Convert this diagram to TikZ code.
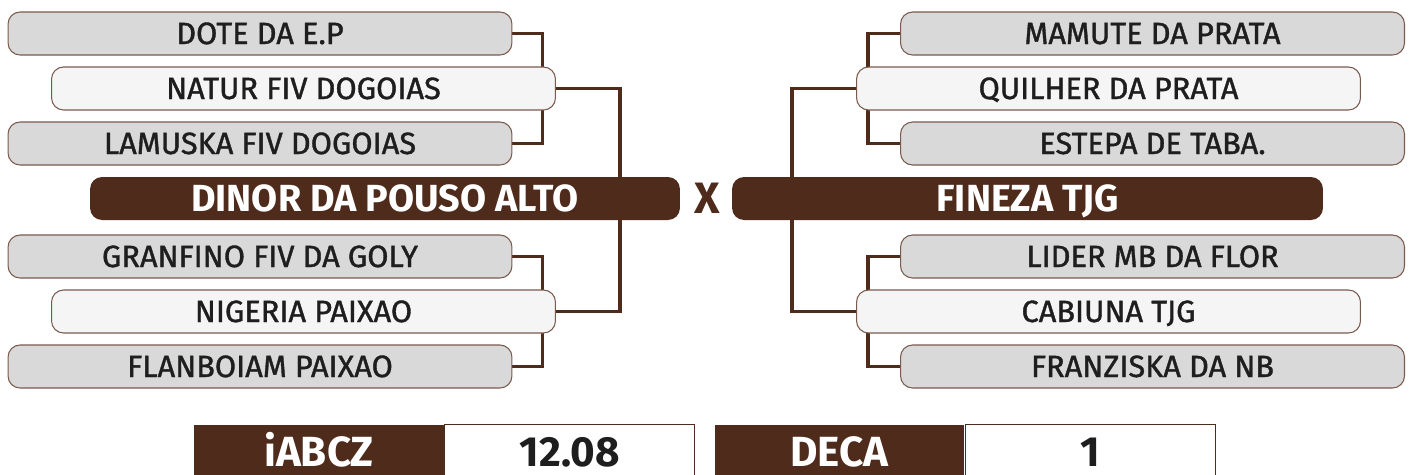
\documentclass[tikz,border=0pt]{standalone}
\usepackage{fontspec}
\setmainfont{Fira Sans}
\newfontfamily\horsefont{Fira Sans}[FakeBold=1.2]
\usepackage{tikz}
\usetikzlibrary{backgrounds}
\definecolor{hbrown}{HTML}{4E2B1B}
\definecolor{hgray}{HTML}{D9D9D9}
\definecolor{hlight}{HTML}{F5F5F5}
\definecolor{hedge}{HTML}{7A5A4C}
\definecolor{htext}{HTML}{1E1E1E}

\tikzset{
  horse/.style={draw=hedge, line width=0.6pt, rounded corners=0.24cm,
    minimum width=10.08cm, minimum height=0.86cm, inner sep=0pt,
    text height=0.42cm, text depth=0pt,
    text=htext, font=\horsefont\fontsize{17.5}{17.5}\selectfont},
  grayhorse/.style={horse, fill=hgray},
  lighthorse/.style={horse, fill=hlight},
  champ/.style={fill=hbrown, rounded corners=0.24cm, minimum height=0.86cm,
    inner sep=0pt, text height=0.5cm, text depth=0pt,
    text=white, font=\fontsize{21.5}{21.5}\selectfont\bfseries},
  link/.style={draw=hbrown, line width=2.2pt},
  cellhead/.style={fill=hbrown, minimum width=5cm, minimum height=1.1cm,
    inner sep=0pt, text height=0.58cm, text depth=0pt,
    text=white, font=\fontsize{24}{24}\selectfont\bfseries},
  cellval/.style={draw=hbrown, line width=0.6pt, fill=white, minimum width=5cm,
    minimum height=1.1cm, inner sep=0pt, text height=0.58cm, text depth=0pt,
    text=htext, font=\fontsize{24}{24}\selectfont\bfseries}
}

\begin{document}
\begin{tikzpicture}[x=0.02cm, y=-0.02cm]
    \useasboundingbox (0,0) rectangle (1412,474);
    % left half
    \node[grayhorse] (dote) at (260,33.5) {DOTE DA E.P};
    \node[lighthorse] (natur) at (303.5,88.5) {NATUR FIV DOGOIAS};
    \node[grayhorse] (lamuska) at (260,143.5) {LAMUSKA FIV DOGOIAS};
    \node[champ, minimum width=11.8cm] (dinor) at (385,198.5) {DINOR DA POUSO ALTO};
    \node[grayhorse] (granfino) at (260,256.5) {GRANFINO FIV DA GOLY};
    \node[lighthorse] (nigeria) at (303.5,311.5) {NIGERIA PAIXAO};
    \node[grayhorse] (flanboiam) at (260,366.5) {FLANBOIAM PAIXAO};
    % right half
    \node[grayhorse] (mamute) at (1152.5,33.5) {MAMUTE DA PRATA};
    \node[lighthorse] (quilher) at (1108.5,88.5) {QUILHER DA PRATA};
    \node[grayhorse] (estepa) at (1152.5,143.5) {ESTEPA DE TABA.};
    \node[champ, minimum width=11.82cm] (fineza) at (1027.5,198.5) {FINEZA TJG};
    \node[grayhorse] (lider) at (1152.5,256.5) {LIDER MB DA FLOR};
    \node[lighthorse] (cabiuna) at (1108.5,311.5) {CABIUNA TJG};
    \node[grayhorse] (franziska) at (1152.5,366.5) {FRANZISKA DA NB};
    \node[text=hbrown, font=\fontsize{25}{25}\selectfont\bfseries] (versus) at (707,198.5) {X};
    % brackets behind the boxes
    \begin{scope}[on background layer]
      \draw[link] (dote.east) -- ++(30,0) |- (lamuska.east);
      \draw[link] (granfino.east) -- ++(30,0) |- (flanboiam.east);
      \draw[link] (natur.east) -- ++(64,0) |- (nigeria.east);
      \draw[link] (mamute.west) -- ++(-32,0) |- (estepa.west);
      \draw[link] (lider.west) -- ++(-32,0) |- (franziska.west);
      \draw[link] (quilher.west) -- ++(-64,0) |- (cabiuna.west);
    \end{scope}
    % index table
    \node[cellhead] (idxname) at (319,452) {iABCZ};
    \node[cellval, anchor=west] (idxval) at (idxname.east) {12.08};
    \node[cellhead] (decname) at (839.5,452) {DECA};
    \node[cellval, anchor=west] (decval) at (decname.east) {1};
\end{tikzpicture}
\end{document}
